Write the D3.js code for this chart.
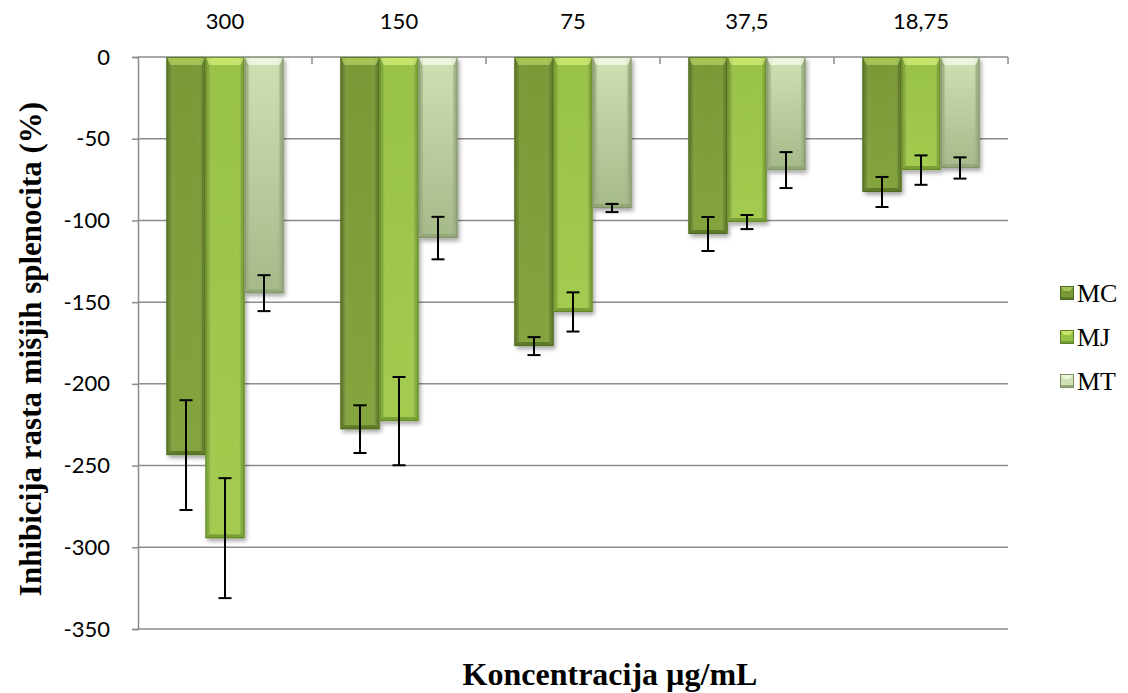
<!DOCTYPE html>
<html>
<head>
<meta charset="utf-8">
<script src="https://cdn.jsdelivr.net/npm/d3@7"></script>
<style>
  html, body { margin: 0; padding: 0; background: #fff; }
  svg { display: block; }
</style>
</head>
<body>
<svg id="chart" width="1128" height="693"></svg>
<script>
// ---------- data ----------
const categories = ["300", "150", "75", "37,5", "18,75"];
const seriesNames = ["MC", "MJ", "MT"];
const MC = [-243.6, -227.7, -176.9, -108.3, -82.6];
const MJ = [-294.4, -222.8, -156.0, -101.0, -69.2];
const MT = [-144.5, -110.8, -92.4, -69.2, -67.9];
const MC_err = [33.6, 14.6, 5.5, 10.4, 9.2];
const MJ_err = [36.7, 27.0, 12.0, 4.3, 9.0];
const MT_err = [11.0, 13.0, 2.5, 11.0, 6.5];
const yTicks = [0, -50, -100, -150, -200, -250, -300, -350];
const yTitle = "Inhibicija rasta mišjih splenocita (%)";
const xTitle = "Koncentracija µg/mL";

const values = { MC: MC, MJ: MJ, MT: MT };
const errors = { MC: MC_err, MJ: MJ_err, MT: MT_err };

// ---------- styles ----------
const palette = {
  MC: { top: "#a5c455", body1: "#799937", body2: "#84a43f", edge: "#68862e", bottom: "#5d7a28", stroke: "#4d6821" },
  MJ: { top: "#c6e46c", body1: "#98c246", body2: "#a3cc50", edge: "#86af3a", bottom: "#789f33", stroke: "#5d7f27" },
  MT: { top: "#ecf5dd", body1: "#cfe1b4", body2: "#a6b989", edge: "#a3b686", bottom: "#95a879", stroke: "#7d8e68" }
};

const svg = d3.select("#chart");
const plotL = 138, plotR = 1008, plotT = 57, plotB = 629;

const y = d3.scaleLinear().domain([0, -350]).range([plotT, plotB]);
const x0 = d3.scaleBand().domain(categories).range([plotL, plotR]).padding(0);
const x1 = d3.scaleBand().domain(seriesNames).range([28.5, x0.bandwidth() - 28.5]).padding(0);

const defs = svg.append("defs");
const f = defs.append("filter").attr("id", "shadow").attr("x", "-20%").attr("y", "-5%").attr("width", "150%").attr("height", "115%");
f.append("feDropShadow").attr("dx", 2).attr("dy", 3).attr("stdDeviation", 2.2).attr("flood-color", "#000").attr("flood-opacity", 0.35);

seriesNames.forEach(s => {
  const p = palette[s];
  const g = defs.append("linearGradient").attr("id", "grad-" + s).attr("x1", 0).attr("y1", 0).attr("x2", 0).attr("y2", 1);
  g.append("stop").attr("offset", "0%").attr("stop-color", p.body1);
  g.append("stop").attr("offset", "100%").attr("stop-color", p.body2);
  const gh = defs.append("linearGradient").attr("id", "hgrad-" + s).attr("x1", 0).attr("y1", 0).attr("x2", 1).attr("y2", 0);
  gh.append("stop").attr("offset", "0%").attr("stop-color", "#000").attr("stop-opacity", 0.10);
  gh.append("stop").attr("offset", "25%").attr("stop-color", "#fff").attr("stop-opacity", 0.0);
  gh.append("stop").attr("offset", "75%").attr("stop-color", "#fff").attr("stop-opacity", 0.0);
  gh.append("stop").attr("offset", "100%").attr("stop-color", "#000").attr("stop-opacity", 0.10);
});

// ---------- gridlines ----------
svg.append("g").selectAll("line").data(yTicks.filter(d => d !== 0)).join("line")
  .attr("x1", plotL).attr("x2", plotR)
  .attr("y1", d => y(d)).attr("y2", d => y(d))
  .attr("stroke", "#8c8c8c").attr("stroke-width", 1.5);

// y axis
const yAxis = d3.axisLeft(y).tickValues(yTicks).tickSize(6).tickPadding(22).tickFormat(d => d3.format("d")(d).replace("−", "-"));
const ya = svg.append("g").attr("transform", `translate(${plotL},0)`).call(yAxis);
ya.select(".domain").attr("stroke", "#8c8c8c").attr("stroke-width", 1.5);
ya.selectAll(".tick line").attr("stroke", "#8c8c8c").attr("stroke-width", 1.5);
ya.selectAll(".tick text").attr("font-family", "Lato, 'Open Sans', sans-serif").attr("font-size", 22).attr("fill", "#000");

// category axis at 0 with labels on top
const xa = svg.append("g");
xa.append("line").attr("x1", plotL).attr("x2", plotR).attr("y1", y(0)).attr("y2", y(0))
  .attr("stroke", "#8c8c8c").attr("stroke-width", 1.5);
xa.selectAll("line.tk").data(categories).join("line").attr("class", "tk")
  .attr("x1", d => x0(d) + x0.bandwidth()).attr("x2", d => x0(d) + x0.bandwidth())
  .attr("y1", y(0)).attr("y2", y(0) + 7)
  .attr("stroke", "#8c8c8c").attr("stroke-width", 1.5);
xa.selectAll("text").data(categories).join("text")
  .attr("x", d => x0(d) + x0.bandwidth() / 2).attr("y", 29)
  .attr("text-anchor", "middle")
  .attr("font-family", "Lato, 'Open Sans', sans-serif").attr("font-size", 22).attr("fill", "#000")
  .text(d => d);

// ---------- bars ----------
function bevelBar(g, bx, by, bw, bh, s) {
  const p = palette[s];
  const b = 8; // bevel size
  const grp = g.append("g");
  grp.append("rect").attr("x", bx).attr("y", by).attr("width", bw).attr("height", bh)
    .attr("fill", `url(#grad-${s})`).attr("filter", "url(#shadow)");
  grp.append("polygon").attr("points", [[bx, by], [bx + 4, by + b], [bx + 4, by + bh - 4], [bx, by + bh]].join(" "))
    .attr("fill", p.edge).attr("opacity", 0.85);
  grp.append("polygon").attr("points", [[bx + bw, by], [bx + bw - 4, by + b], [bx + bw - 4, by + bh - 4], [bx + bw, by + bh]].join(" "))
    .attr("fill", p.edge).attr("opacity", 0.85);
  grp.append("polygon").attr("points", [[bx, by + bh], [bx + 4, by + bh - 4], [bx + bw - 4, by + bh - 4], [bx + bw, by + bh]].join(" "))
    .attr("fill", p.bottom);
  grp.append("polygon").attr("points", [[bx, by], [bx + bw, by], [bx + bw - 4, by + b], [bx + 4, by + b]].join(" "))
    .attr("fill", p.top);
  grp.append("rect").attr("x", bx).attr("y", by).attr("width", bw).attr("height", bh)
    .attr("fill", `url(#hgrad-${s})`);
  grp.append("rect").attr("x", bx + 0.5).attr("y", by + 0.5).attr("width", bw - 1).attr("height", bh - 1)
    .attr("fill", "none").attr("stroke", p.stroke).attr("stroke-width", 1).attr("stroke-opacity", 0.8);
}

const barsG = svg.append("g");
categories.forEach((c, i) => {
  seriesNames.forEach(s => {
    const v = values[s][i];
    const bx = x0(c) + x1(s);
    bevelBar(barsG, bx, y(0), x1.bandwidth(), y(v) - y(0), s);
  });
});

// ---------- error bars ----------
const errG = svg.append("g").attr("stroke", "#000").attr("stroke-width", 2);
categories.forEach((c, i) => {
  seriesNames.forEach(s => {
    const v = values[s][i], e = errors[s][i];
    const cx = x0(c) + x1(s) + x1.bandwidth() / 2;
    const yTop = y(v + e), yBot = y(v - e);
    errG.append("line").attr("x1", cx).attr("x2", cx).attr("y1", yTop).attr("y2", yBot);
    errG.append("line").attr("x1", cx - 6.5).attr("x2", cx + 6.5).attr("y1", yTop).attr("y2", yTop);
    errG.append("line").attr("x1", cx - 6.5).attr("x2", cx + 6.5).attr("y1", yBot).attr("y2", yBot);
  });
});

// ---------- titles ----------
svg.append("text")
  .attr("transform", `translate(41,${(plotT + plotB) / 2 + 6}) rotate(-90)`)
  .attr("text-anchor", "middle")
  .attr("font-family", "'Liberation Serif', 'Times New Roman', serif").attr("font-weight", "bold")
  .attr("font-size", 31).attr("fill", "#000")
  .text(yTitle);

svg.append("text")
  .attr("x", 610).attr("y", 685)
  .attr("text-anchor", "middle")
  .attr("font-family", "'Liberation Serif', 'Times New Roman', serif").attr("font-weight", "bold")
  .attr("font-size", 32).attr("fill", "#000")
  .text(xTitle);

// ---------- legend ----------
const leg = svg.append("g");
seriesNames.forEach((s, i) => {
  const p = palette[s];
  const cy = 293 + i * 44;
  const lx = 1060, sz = 14;
  const ly = cy - sz / 2;
  leg.append("rect").attr("x", lx).attr("y", ly).attr("width", sz).attr("height", sz).attr("fill", p.body1);
  leg.append("polygon").attr("points", [[lx, ly], [lx + sz, ly], [lx + sz - 4, ly + 5], [lx + 4, ly + 5]].join(" ")).attr("fill", p.top);
  leg.append("rect").attr("x", lx).attr("y", ly + sz - 3).attr("width", sz).attr("height", 3).attr("fill", p.bottom);
  leg.append("rect").attr("x", lx + 0.5).attr("y", ly + 0.5).attr("width", sz - 1).attr("height", sz - 1)
    .attr("fill", "none").attr("stroke", p.stroke).attr("stroke-width", 1);
  leg.append("text").attr("x", lx + 17).attr("y", cy + 9)
    .attr("font-family", "'Liberation Serif', 'Times New Roman', serif")
    .attr("font-size", 26).attr("fill", "#000").text(s);
});
</script>
</body>
</html>
